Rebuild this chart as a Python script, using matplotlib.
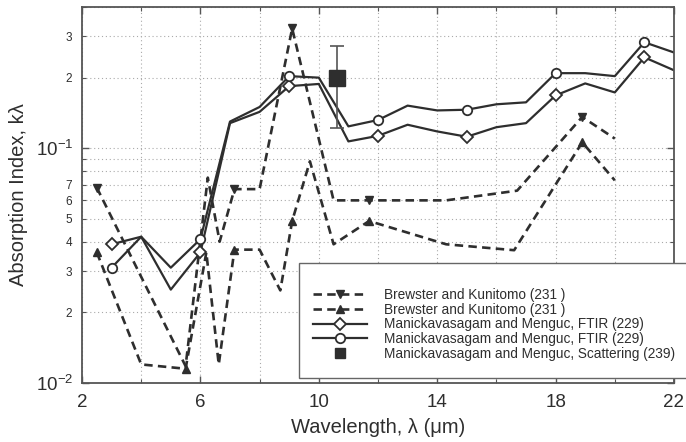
import numpy as np
import matplotlib
matplotlib.use("Agg")
import matplotlib.pyplot as plt
from matplotlib.lines import Line2D
from matplotlib.patches import Rectangle
from matplotlib.ticker import FixedLocator, FuncFormatter, NullFormatter

plt.rcParams['font.family'] = ['Liberation Sans', 'DejaVu Sans']
plt.rcParams['mathtext.fontset'] = 'custom'
plt.rcParams['mathtext.rm'] = 'Liberation Sans'
plt.rcParams['mathtext.it'] = 'Liberation Sans:italic'
plt.rcParams['mathtext.bf'] = 'Liberation Sans:bold'

# Brewster and Kunitomo (231), down triangles
bk_down_x = [2.5, 5.5, 6.25, 6.65, 7.15, 8.0, 9.1, 10.5, 11.7, 14.3, 16.7, 18.9, 20.0]
bk_down_k = [0.068, 0.0118, 0.075, 0.040, 0.067, 0.067, 0.324, 0.060, 0.060, 0.060, 0.066, 0.136, 0.110]
bk_down_marks = [0, 4, 6, 8, 11]

# Brewster and Kunitomo (231), up triangles
bk_up_x = [2.5, 4.0, 5.5, 6.2, 6.62, 7.15, 8.0, 8.7, 9.1, 9.7, 10.5, 11.7, 14.3, 16.6, 18.9, 20.0]
bk_up_k = [0.036, 0.012, 0.0115, 0.036, 0.012, 0.037, 0.037, 0.0248, 0.049, 0.088, 0.039, 0.049,
           0.039, 0.0368, 0.106, 0.073]
bk_up_marks = [0, 2, 5, 8, 11, 14]

# Manickavasagam and Menguc, FTIR (229)
ftir_x = list(range(3, 23))
ftir_diamond_k = [0.039, 0.042, 0.025, 0.036, 0.128, 0.143, 0.184, 0.188, 0.107, 0.113,
                  0.126, 0.118, 0.112, 0.123, 0.128, 0.168, 0.189, 0.173, 0.244, 0.215]
ftir_circle_k = [0.031, 0.042, 0.031, 0.041, 0.130, 0.150, 0.203, 0.200, 0.124, 0.132,
                 0.152, 0.145, 0.146, 0.154, 0.157, 0.209, 0.209, 0.203, 0.283, 0.256]

# Manickavasagam and Menguc, Scattering (239)
scat_x = [10.62]
scat_k = [0.20]
scat_lo = [0.122]
scat_hi = [0.272]

labels = ["Brewster and Kunitomo (231 )",
          "Brewster and Kunitomo (231 )",
          "Manickavasagam and Menguc, FTIR (229)",
          "Manickavasagam and Menguc, FTIR (229)",
          "Manickavasagam and Menguc, Scattering (239)"]

ink = '#2e2e2e'
dash = (0, (3.2, 2.0))

fig = plt.figure(figsize=(6.86, 4.42), dpi=100)
ax = fig.add_axes([82/686, 1 - 383/442, (674 - 82)/686, (383 - 7)/442])

ax.plot(bk_down_x, bk_down_k, ls=dash, lw=1.9, color=ink, marker='v', ms=6,
        markevery=bk_down_marks)
ax.plot(bk_up_x, bk_up_k, ls=dash, lw=1.9, color=ink, marker='^', ms=6,
        markevery=bk_up_marks)
ax.plot(ftir_x, ftir_diamond_k, '-', lw=1.6, color=ink, marker='D', ms=6.3,
        mfc='white', mew=1.3, markevery=3)
ax.plot(ftir_x, ftir_circle_k, '-', lw=1.6, color=ink, marker='o', ms=6.8,
        mfc='white', mew=1.3, markevery=3)
err = [np.array(scat_k) - np.array(scat_lo), np.array(scat_hi) - np.array(scat_k)]
ax.errorbar(scat_x, scat_k, yerr=err, fmt='s', ms=11, color=ink, ecolor='#555555',
            elinewidth=1.2, capsize=5, capthick=1.2)

ax.set_yscale('log')
ax.set_xlim(2, 22)
ax.set_ylim(0.01, 0.4)

ax.xaxis.set_major_locator(FixedLocator([2, 6, 10, 14, 18, 22]))
ax.xaxis.set_minor_locator(FixedLocator([4, 8, 12, 16, 20]))
ax.yaxis.set_major_locator(FixedLocator([0.01, 0.1]))
ax.yaxis.set_major_formatter(FuncFormatter(
    lambda v, p: r'$\mathregular{10^{%d}}$' % round(np.log10(v))))
minor_y = [m * 10.0**e for e in (-2, -1) for m in range(2, 10)]
ax.yaxis.set_minor_locator(FixedLocator(minor_y))
labelled = {0.02: '2', 0.03: '3', 0.04: '4', 0.05: '5', 0.06: '6', 0.07: '7', 0.2: '2', 0.3: '3'}
ax.yaxis.set_minor_formatter(FuncFormatter(
    lambda v, p: next((s for k, s in labelled.items() if abs(v - k) < 1e-9), '')))

ax.tick_params(which='both', direction='in', top=True, right=True, color='#555555')
ax.tick_params(which='major', length=5, width=1, pad=8)
ax.tick_params(axis='x', which='major', labelsize=13.5, labelcolor=ink)
ax.tick_params(axis='y', which='major', labelsize=13.5, labelcolor=ink, pad=6)
ax.tick_params(axis='y', which='minor', length=3, width=0.8, labelsize=8.5,
               labelcolor=ink, pad=7)
ax.tick_params(axis='x', which='minor', length=3, width=0.8)
ax.xaxis.set_minor_formatter(NullFormatter())

ax.grid(True, which='both', ls=(0, (1, 2.5)), color='#aaaaaa', lw=0.8)
for s in ax.spines.values():
    s.set_color('#555555')
    s.set_linewidth(1.3)

ax.set_xlabel('Wavelength, λ (μm)', fontsize=14.5, color=ink, labelpad=5)
ax.set_ylabel('Absorption Index, kλ', fontsize=14.5, color=ink, labelpad=6)

# legend box reaching the right edge of the figure
box = Rectangle((299/686, 1 - 378/442), 1.0, (378 - 263)/442, transform=fig.transFigure,
                facecolor='white', edgecolor='#666666', lw=1.0, zorder=2)
fig.patches.append(box)

handles = [
    Line2D([], [], ls=dash, lw=1.9, color=ink, marker='v', ms=6),
    Line2D([], [], ls=dash, lw=1.9, color=ink, marker='^', ms=6),
    Line2D([], [], ls='-', lw=1.6, color=ink, marker='D', ms=6.3, mfc='white', mew=1.3),
    Line2D([], [], ls='-', lw=1.6, color=ink, marker='o', ms=6.8, mfc='white', mew=1.3),
    Line2D([], [], ls='none', color=ink, marker='s', ms=7),
]
leg = fig.legend(handles, labels, loc='upper left', bbox_to_anchor=(313/686, 1 - 288/442),
                 frameon=False, borderpad=0, borderaxespad=0, fontsize=9.8,
                 handlelength=4.0, handletextpad=1.2, labelspacing=0.05, numpoints=1)
for t in leg.get_texts():
    t.set_color(ink)

fig.savefig('out.png', dpi=100)
